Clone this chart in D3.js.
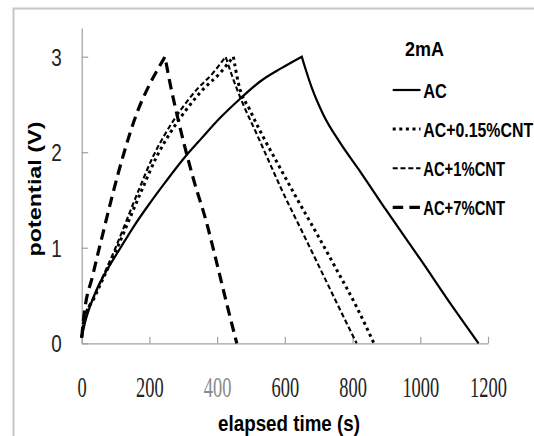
<!DOCTYPE html>
<html>
<head>
<meta charset="utf-8">
<script src="https://cdn.jsdelivr.net/npm/d3@7"></script>
<style>
  html, body { margin: 0; padding: 0; background: #fff; }
  svg { display: block; }
</style>
</head>
<body>
<svg id="chart" width="534" height="436"></svg>
<script>
// ---- data ----
const seriesNames = ["AC", "AC+0.15%CNT", "AC+1%CNT", "AC+7%CNT"];
const legendTitle = "2mA";
const xTicks = [0, 200, 400, 600, 800, 1000, 1200];
const yTicks = [0, 1, 2, 3];

const acTime = [0, 10, 25, 44, 75, 113, 155, 202, 250, 305, 355, 409, 468, 527, 590, 650,
                662, 680, 714, 763, 822, 900, 1000, 1100, 1172];
const acPot  = [0.06, 0.22, 0.39, 0.56, 0.77, 0.99, 1.23, 1.47, 1.70, 1.95, 2.15, 2.36, 2.56, 2.74, 2.88, 3.00,
                2.86, 2.67, 2.39, 2.10, 1.80, 1.39, 0.88, 0.36, 0.00];

const cnt015Time = [0, 5, 39, 105, 177, 221, 261, 310, 359, 409, 430, 448,
                    463, 497, 536, 576, 630, 694, 753, 812, 863];
const cnt015Pot  = [0.06, 0.21, 0.49, 1.00, 1.60, 1.95, 2.20, 2.45, 2.66, 2.83, 2.92, 3.00,
                    2.72, 2.44, 2.16, 1.90, 1.55, 1.15, 0.77, 0.38, 0.00];

const cnt1Time = [0, 5, 37, 100, 168, 210, 248, 294, 341, 388, 408, 425,
                  448, 477, 517, 556, 591, 655, 714, 773, 812];
const cnt1Pot  = [0.06, 0.21, 0.49, 1.00, 1.60, 1.95, 2.20, 2.45, 2.66, 2.83, 2.92, 3.00,
                  2.76, 2.50, 2.19, 1.88, 1.605, 1.14, 0.71, 0.28, 0.00];

const cnt7Time = [0, 5, 34, 64, 90, 123, 162, 202, 225, 246,
                  261, 281, 305, 330, 369, 399, 428, 458];
const cnt7Pot  = [0.06, 0.24, 0.73, 1.17, 1.54, 1.97, 2.40, 2.72, 2.87, 3.00,
                  2.72, 2.40, 2.05, 1.72, 1.26, 0.84, 0.42, 0.00];

const xTitle = "elapsed time (s)";
const yTitle = "potential (V)";

// ---- layout ----
const svg = d3.select("#chart");
const plotL = 81.7, plotR = 488, plotT = 28, plotB = 343.3;
const x = d3.scaleLinear().domain([0, 1200]).range([plotL, plotR]);
const y = d3.scaleLinear().domain([0, 3.3]).range([plotB, plotT]);

const SANS = "'Liberation Sans', Arial, sans-serif";
const SERIF = "'Liberation Serif', 'DejaVu Serif', serif";

// squeeze a text horizontally (in its own frame) to a target width
function fit(textSel, tx, ty, target, rotate) {
  textSel.each(function () {
    const n = this.getComputedTextLength();
    const s = target / n;
    d3.select(this).attr("x", 0).attr("y", 0)
      .attr("transform", `translate(${tx},${ty})${rotate ? ` rotate(${rotate})` : ""} scale(${s},1)`);
  });
}

// outer frame
svg.append("rect").attr("x", 13.5).attr("y", 8.5).attr("width", 620).attr("height", 520)
  .attr("fill", "none").attr("stroke", "#c6c6c6").attr("stroke-width", 2);

// axes
const axisColor = "#a0a0a0";
const gx = svg.append("g").attr("transform", `translate(0,${plotB})`)
  .call(d3.axisBottom(x).tickValues(xTicks).tickSizeInner(-6.5).tickSizeOuter(0).tickFormat(d3.format("d")));
gx.select(".domain").attr("stroke", axisColor).attr("stroke-width", 1.2);
gx.selectAll(".tick line").attr("stroke", axisColor).attr("stroke-width", 1.2);
gx.selectAll(".tick text")
  .attr("dy", 0)
  .attr("font-family", SERIF)
  .attr("font-size", 30)
  .attr("fill", d => d === 400 ? "#8a8a8a" : "#222")
  .each(function (d) { fit(d3.select(this), 0, 53.6, String(d).length * 9.2); });

const gy = svg.append("g").attr("transform", `translate(${plotL},0)`)
  .call(d3.axisLeft(y).tickValues(yTicks).tickSizeInner(-6.5).tickSizeOuter(0).tickFormat(d3.format("d")));
gy.select(".domain").attr("stroke", axisColor).attr("stroke-width", 1.2);
gy.selectAll(".tick line").attr("stroke", axisColor).attr("stroke-width", 1.2);
gy.selectAll(".tick text")
  .attr("dy", "0.36em")
  .attr("font-family", SANS)
  .attr("font-size", 24)
  .attr("fill", "#222")
  .each(function () { fit(d3.select(this), -20, 0, 10.5); });

// axis titles
const xt = svg.append("text").attr("text-anchor", "middle")
  .attr("font-family", SANS).attr("font-weight", "bold")
  .attr("font-size", 22).text(xTitle);
fit(xt, 289, 430.5, 142);
const yt = svg.append("text").attr("text-anchor", "middle")
  .attr("font-family", SANS).attr("font-weight", "bold")
  .attr("font-size", 17.5).text(yTitle);
fit(yt, 40.5, 189, 135, -90);

// series
const styles = [
  { w: 2.2, dash: null },
  { w: 3.0, dash: "3,3.6" },
  { w: 2.1, dash: "5,2.8" },
  { w: 3.2, dash: "10.5,6.2" }
];
const data = [
  [acTime, acPot], [cnt015Time, cnt015Pot], [cnt1Time, cnt1Pot], [cnt7Time, cnt7Pot]
];
const line = d3.line().x(d => x(d[0])).y(d => y(d[1])).curve(d3.curveMonotoneX);

data.forEach(([ts, vs], i) => {
  const pts = ts.map((t, k) => [t, vs[k]]);
  const peak = d3.maxIndex(vs);
  const charge = pts.slice(0, peak + 1);
  const discharge = pts.slice(peak);
  const d = line(charge) + line(discharge).replace(/^M/, "L");
  svg.append("path").attr("d", d).attr("fill", "none")
    .attr("stroke", "#000").attr("stroke-width", styles[i].w)
    .attr("stroke-dasharray", styles[i].dash)
    .attr("stroke-linejoin", "miter");
});

// legend
const lt = svg.append("text").attr("font-family", SANS).attr("font-weight", "bold")
  .attr("font-size", 19.5).text(legendTitle);
fit(lt, 405, 56.2, 39);
const legendLens = [23.7, 110, 82, 82];
seriesNames.forEach((name, i) => {
  const base = 97.5 + i * 39.1;
  const ly = base - 7.5;
  svg.append("line").attr("x1", 392.7).attr("x2", 420.5).attr("y1", ly).attr("y2", ly)
    .attr("stroke", "#000").attr("stroke-width", styles[i].w)
    .attr("stroke-dasharray", styles[i].dash);
  const t = svg.append("text").attr("font-family", SANS).attr("font-weight", "bold")
    .attr("font-size", 21).text(name);
  fit(t, 423.2, base, legendLens[i]);
});
</script>
</body>
</html>
